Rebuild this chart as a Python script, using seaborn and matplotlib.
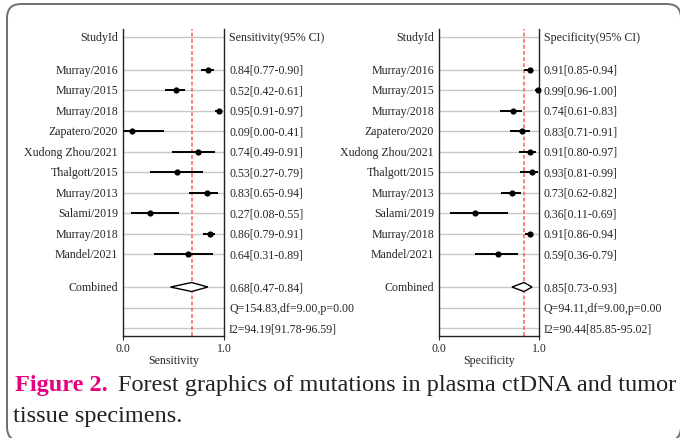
import numpy as np
import pandas as pd
import matplotlib
matplotlib.use("Agg")
import matplotlib.pyplot as plt
import seaborn as sns
from matplotlib.patches import FancyBboxPatch, Polygon
from matplotlib.transforms import blended_transform_factory

# data
studies = ["Murray/2016", "Murray/2015", "Murray/2018", "Zapatero/2020",
           "Xudong Zhou/2021", "Thalgott/2015", "Murray/2013", "Salami/2019",
           "Murray/2018", "Mandel/2021"]

sens = [0.84, 0.52, 0.95, 0.09, 0.74, 0.53, 0.83, 0.27, 0.86, 0.64]
sens_lo = [0.77, 0.42, 0.91, 0.00, 0.49, 0.27, 0.65, 0.08, 0.79, 0.31]
sens_hi = [0.90, 0.61, 0.97, 0.41, 0.91, 0.79, 0.94, 0.55, 0.91, 0.89]
sens_pool = (0.68, 0.47, 0.84)
sens_q = "Q=154.83,df=9.00,p=0.00"
sens_i2 = "I2=94.19[91.78-96.59]"

spec = [0.91, 0.99, 0.74, 0.83, 0.91, 0.93, 0.73, 0.36, 0.91, 0.59]
spec_lo = [0.85, 0.96, 0.61, 0.71, 0.80, 0.81, 0.62, 0.11, 0.86, 0.36]
spec_hi = [0.94, 1.00, 0.83, 0.91, 0.97, 0.99, 0.82, 0.69, 0.94, 0.79]
spec_pool = (0.85, 0.73, 0.93)
spec_q = "Q=94.11,df=9.00,p=0.00"
spec_i2 = "I2=90.44[85.85-95.02]"

sns.set_style("white")
plt.rcParams["font.family"] = ["Liberation Serif", "DejaVu Serif"]

W, H = 680, 439
fig = plt.figure(figsize=(W / 100, H / 100), dpi=100)

# row layout
gap = 1.6
y_head = 0.0
y_study = np.arange(len(studies)) + gap
y_comb = y_study[-1] + gap
y_q = y_comb + 1
y_i2 = y_comb + 2
all_rows = [y_head] + list(y_study) + [y_comb, y_q, y_i2]
FS = 8.6


def forest(ax, est, lo, hi, pool, qtxt, i2txt, header, xlabel):
    df = pd.DataFrame({"study": studies, "est": est, "lo": lo, "hi": hi,
                       "y": y_study})
    for r in all_rows:
        ax.axhline(r, color="#c8c8c8", lw=1.0, zorder=1)
    ax.hlines(df["y"], df["lo"], df["hi"], color="black", lw=1.4, zorder=3)
    sns.scatterplot(data=df, x="est", y="y", ax=ax, color="black", s=20,
                    edgecolor="black", linewidth=0, zorder=4, legend=False,
                    clip_on=False)
    p, plo, phi = pool
    ax.axvline(p, color="#ff5a5a", lw=1.1, ls=(0, (2.5, 1.5)), zorder=2)
    dia = Polygon([(plo, y_comb), (p, y_comb - 0.22), (phi, y_comb),
                   (p, y_comb + 0.22)], closed=True, facecolor="white",
                  edgecolor="black", lw=1.0, zorder=4)
    ax.add_patch(dia)

    ax.set_xlim(0, 1)
    ax.set_ylim(y_i2 + 0.39, -0.39)
    ax.set_xticks([0, 1])
    ax.set_xticklabels(["0.0", "1.0"], fontsize=FS)
    ax.set_yticks([])
    ax.set_ylabel("")
    ax.set_xlabel(xlabel, fontsize=FS, labelpad=0)
    ax.tick_params(axis="x", length=3, width=0.8, pad=1, bottom=True)
    for s in ["left", "right", "bottom"]:
        ax.spines[s].set_color("#222222")
        ax.spines[s].set_linewidth(1.0)
    ax.spines["top"].set_visible(False)

    tr = blended_transform_factory(ax.transAxes, ax.transData)
    ax.text(-0.05, y_head, "StudyId", transform=tr, ha="right",
            va="center", fontsize=FS)
    ax.text(1.05, y_head, header, transform=tr, ha="left", va="center",
            fontsize=FS)
    for i, row in df.iterrows():
        ax.text(-0.05, row["y"], row["study"], transform=tr, ha="right",
                va="center", fontsize=FS)
        ax.text(1.05, row["y"],
                f"{row['est']:.2f}[{row['lo']:.2f}-{row['hi']:.2f}]",
                transform=tr, ha="left", va="center", fontsize=FS)
    ax.text(-0.05, y_comb, "Combined", transform=tr, ha="right",
            va="center", fontsize=FS)
    ax.text(1.05, y_comb, f"{p:.2f}[{plo:.2f}-{phi:.2f}]", transform=tr,
            ha="left", va="center", fontsize=FS)
    ax.text(1.05, y_q, qtxt, transform=tr, ha="left", va="center",
            fontsize=FS)
    ax.text(1.05, y_i2, i2txt, transform=tr, ha="left", va="center",
            fontsize=FS)


top, bot = 30, 337
ax1 = fig.add_axes([123 / W, (H - bot) / H, 101 / W, (bot - top) / H])
ax2 = fig.add_axes([439 / W, (H - bot) / H, 100 / W, (bot - top) / H])
for a in (ax1, ax2):
    a.patch.set_alpha(0)

forest(ax1, sens, sens_lo, sens_hi, sens_pool, sens_q, sens_i2,
       "Sensitivity(95% CI)", "Sensitivity")
forest(ax2, spec, spec_lo, spec_hi, spec_pool, spec_q, spec_i2,
       "Specificity(95% CI)", "Specificity")

# rounded frame, right and bottom edges run off the picture
frame = FancyBboxPatch((7, -3), 674, H - 5 + 3,
                       boxstyle="round,pad=0,rounding_size=14",
                       transform=None, facecolor="none",
                       edgecolor="#6e6e6e", lw=1.4, clip_on=False)
fig.patches.append(frame)

# caption
fig.text(15 / W, 1 - 386 / H, "Figure 2.", color="#e4007f",
         fontsize=17.5, fontweight="bold", va="center", ha="left")
fig.text(118 / W, 1 - 386 / H,
         "Forest graphics of mutations in plasma ctDNA and tumor",
         color="#222222", fontsize=17.5, va="center", ha="left")
fig.text(13 / W, 1 - 417 / H, "tissue specimens.", color="#222222",
         fontsize=17.5, va="center", ha="left")

fig.savefig("out.png", dpi=100)
